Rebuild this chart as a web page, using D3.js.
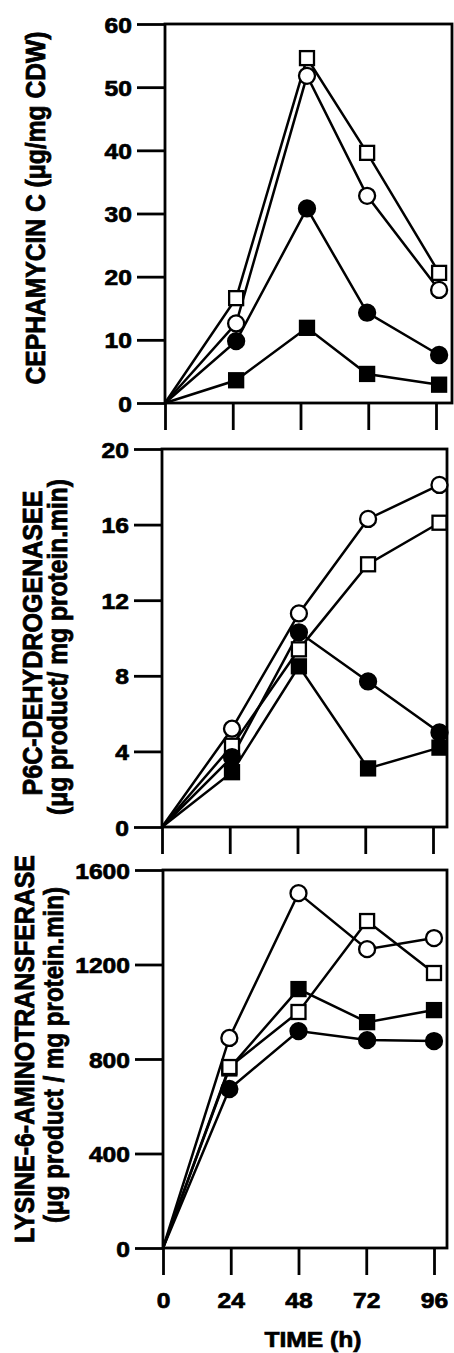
<!DOCTYPE html>
<html>
<head>
<meta charset="utf-8">
<script src="https://cdn.jsdelivr.net/npm/d3@7"></script>
<style>
  body { margin: 0; background: #fff; }
  text { font-family: "Liberation Sans", Arial, sans-serif; font-weight: bold; fill: #000; stroke: #000; stroke-width: 0.7px; }
</style>
</head>
<body>
<div id="chart"></div>
<script>
// tick values
const xTicks = [0, 24, 48, 72, 96];
const cephTicks = [0, 10, 20, 30, 40, 50, 60];
const p6cTicks = [0, 4, 8, 12, 16, 20];
const latTicks = [0, 400, 800, 1200, 1600];

// sampling times (h) as plotted in each panel
const cephTimes = [0, 25.2, 50.3, 71.6, 97.1];
const p6cTimes = [0, 24.8, 48.5, 73, 98.3];
const latTimes = [0, 23.5, 48, 72.3, 96];

// cephamycin C (ug/mg CDW)
const cephOpenSquare = [0, 16.6, 54.6, 39.6, 20.6];
const cephOpenCircle = [0, 12.6, 51.8, 32.8, 17.9];
const cephFilledCircle = [0, 9.8, 30.8, 14.3, 7.6];
const cephFilledSquare = [0, 3.6, 11.9, 4.6, 2.9];

// P6C-dehydrogenase
const p6cOpenCircle = [0, 5.2, 11.3, 16.3, 18.1];
const p6cOpenSquare = [0, 4.3, 9.4, 13.9, 16.1];
const p6cFilledCircle = [0, 3.7, 10.3, 7.7, 5.0];
const p6cFilledSquare = [0, 2.9, 8.5, 3.1, 4.2];

// lysine-6-aminotransferase
const latOpenCircle = [0, 889, 1502, 1265, 1312];
const latOpenSquare = [0, 766, 999, 1384, 1164];
const latFilledSquare = [0, 760, 1096, 956, 1007];
const latFilledCircle = [0, 673, 918, 880, 876];

const W = 454, H = 1353;
const sx = 1.12; // the scan is a little wider than tall

const svg = d3.select("#chart").append("svg")
  .attr("width", W)
  .attr("height", H);

function seriesOf(fs, os, oc, fc) {
  // drawing order: filled square, open square, open circle, filled circle
  return [
    { values: fs, shape: "square", filled: true },
    { values: os, shape: "square", filled: false },
    { values: oc, shape: "circle", filled: false },
    { values: fc, shape: "circle", filled: true }
  ];
}

const panels = [
  {
    times: cephTimes, yMax: 60, yTicks: cephTicks,
    series: seriesOf(cephFilledSquare, cephOpenSquare, cephOpenCircle, cephFilledCircle),
    box: { left: 165, right: 452, top: 24, bottom: 403 },
    labels: [{ text: "CEPHAMYCIN C (μg/mg CDW)", x: 45, y: 208, len: 353 }],
    showX: false
  },
  {
    times: p6cTimes, yMax: 20, yTicks: p6cTicks,
    series: seriesOf(p6cFilledSquare, p6cOpenSquare, p6cOpenCircle, p6cFilledCircle),
    box: { left: 162, right: 447, top: 449, bottom: 827 },
    labels: [
      { text: "P6C-DEHYDROGENASEE", x: 42, y: 643, len: 305 },
      { text: "(μg product/ mg protein.min)", x: 67, y: 647, len: 336 }
    ],
    showX: false
  },
  {
    times: latTimes, yMax: 1600, yTicks: latTicks,
    series: seriesOf(latFilledSquare, latOpenSquare, latOpenCircle, latFilledCircle),
    box: { left: 163, right: 447, top: 870, bottom: 1248 },
    labels: [
      { text: "LYSINE-6-AMINOTRANSFERASE", x: 34, y: 1049, len: 388 },
      { text: "(μg product / mg protein.min)", x: 63, y: 1055, len: 336 }
    ],
    showX: true
  }
];

panels.forEach(p => {
  const b = p.box;
  const x = d3.scaleLinear().domain([0, 96]).range([b.left, b.left + 271]);
  const y = d3.scaleLinear().domain([0, p.yMax]).range([b.bottom, b.top]);
  const g = svg.append("g");

  // y axis, ticks outward
  const ya = g.append("g")
    .attr("transform", `translate(${b.left},0)`)
    .call(d3.axisLeft(y).tickValues(p.yTicks).tickSize(28).tickSizeOuter(0)
      .tickFormat(d3.format("d")));
  ya.select(".domain").remove();
  ya.selectAll("line").attr("stroke", "#000").attr("stroke-width", 2.8);
  ya.selectAll("text")
    .attr("font-size", 22)
    .attr("x", -33 / sx)
    .attr("dy", null)
    .attr("y", 8)
    .attr("transform", `scale(${sx},1)`);

  // x axis, ticks pointing down
  const xa = g.append("g")
    .attr("transform", `translate(0,${b.bottom})`)
    .call(d3.axisBottom(x).tickValues(xTicks).tickSize(27).tickSizeOuter(0)
      .tickFormat(p.showX ? d3.format("d") : () => ""));
  xa.select(".domain").remove();
  xa.selectAll("line").attr("stroke", "#000").attr("stroke-width", 2.8);
  xa.selectAll("text")
    .attr("font-size", 22)
    .attr("dy", null)
    .attr("y", 60)
    .attr("transform", `scale(${sx},1)`);

  // frame
  g.append("rect")
    .attr("x", b.left).attr("y", b.top)
    .attr("width", b.right - b.left).attr("height", b.bottom - b.top)
    .attr("fill", "none").attr("stroke", "#000").attr("stroke-width", 2.8);

  // lines
  const line = d3.line().x((d, i) => x(p.times[i])).y(d => y(d));
  g.selectAll("path.series")
    .data(p.series)
    .join("path")
    .attr("class", "series")
    .attr("d", s => line(s.values))
    .attr("fill", "none")
    .attr("stroke", "#000")
    .attr("stroke-width", 2.5);

  // markers (skip the origin point)
  p.series.forEach(s => {
    const pts = s.values.map((v, i) => ({ t: p.times[i], v })).slice(1);
    if (s.shape === "circle") {
      g.selectAll(null).data(pts).join("circle")
        .attr("cx", d => x(d.t)).attr("cy", d => y(d.v)).attr("r", 8)
        .attr("fill", s.filled ? "#000" : "#fff")
        .attr("stroke", "#000").attr("stroke-width", 2.3);
    } else {
      g.selectAll(null).data(pts).join("rect")
        .attr("x", d => x(d.t) - 7).attr("y", d => y(d.v) - 7)
        .attr("width", 14).attr("height", 14)
        .attr("fill", s.filled ? "#000" : "#fff")
        .attr("stroke", "#000").attr("stroke-width", 2.3);
    }
  });

  // rotated y labels
  p.labels.forEach(l => {
    svg.append("g")
      .attr("transform", `translate(${l.x},${l.y}) scale(${sx},1) rotate(-90)`)
      .append("text")
      .attr("text-anchor", "middle")
      .attr("font-size", 24)
      .attr("textLength", l.len)
      .attr("lengthAdjust", "spacingAndGlyphs")
      .text(l.text);
  });

  if (p.showX) {
    svg.append("g")
      .attr("transform", `translate(313,1347) scale(${sx},1)`)
      .append("text")
      .attr("text-anchor", "middle")
      .attr("font-size", 22)
      .text("TIME (h)");
  }
});
</script>
</body>
</html>
